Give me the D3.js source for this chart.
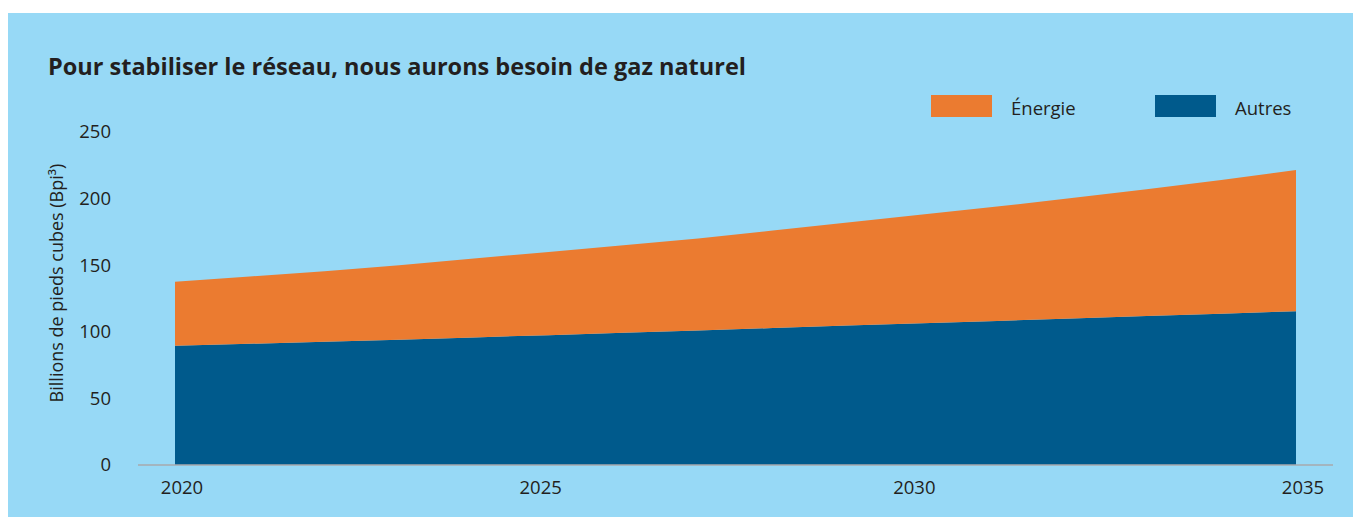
<!DOCTYPE html>
<html>
<head>
<meta charset="utf-8">
<script src="https://cdn.jsdelivr.net/npm/d3@7"></script>
<style>
  html, body { margin: 0; padding: 0; background: #fff; }
  svg { display: block; font-family: "Open Sans", "Noto Sans", sans-serif; }
</style>
</head>
<body>
<script>
var W = 1353, H = 517;

// data (Bpi³)
var years   = [2020, 2021, 2022, 2023, 2024, 2025, 2026, 2027, 2028, 2029, 2030, 2031, 2032, 2033, 2034, 2035];
var autres  = [89.5, 91, 92.5, 94, 95.8, 97.5, 99.2, 101, 102.8, 104.7, 106.5, 108.2, 110, 111.8, 113.6, 115.5];
var energie = [48, 50.5, 53, 56, 59.2, 62.5, 65.8, 69, 73.2, 77.3, 81.5, 85.8, 90.5, 95.2, 100.4, 106];
var seriesNames = ["Autres", "Énergie"];
var seriesColors = ["#005a8c", "#eb7b30"];
var yTicks = [0, 50, 100, 150, 200, 250];
var xTicks = [2020, 2025, 2030, 2035];

var title = "Pour stabiliser le réseau, nous aurons besoin de gaz naturel";
var yTitle = "Billions de pieds cubes (Bpi³)";

var rows = years.map(function(y, i) {
    return { year: y, "Autres": autres[i], "Énergie": energie[i] };
});

var svg = d3.select("body").append("svg")
    .attr("width", W)
    .attr("height", H);

// panel background
svg.append("rect")
    .attr("x", 8).attr("y", 13)
    .attr("width", W - 8).attr("height", H - 13)
    .attr("fill", "#97d9f6");

var x = d3.scaleLinear().domain([2020, 2035]).range([175, 1296]);
var y = d3.scaleLinear().domain([0, 250]).range([465, 132]);

var stack = d3.stack().keys(seriesNames);
var layers = stack(rows);

var area = d3.area()
    .x(function(d) { return x(d.data.year); })
    .y0(function(d) { return y(d[0]); })
    .y1(function(d) { return y(d[1]); });

svg.selectAll(".layer")
    .data(layers).enter()
    .append("path")
    .attr("class", "layer")
    .attr("fill", function(d, i) { return seriesColors[i]; })
    .attr("d", area);

// baseline
svg.append("line")
    .attr("x1", 138).attr("x2", 1333)
    .attr("y1", y(0)).attr("y2", y(0))
    .attr("stroke", "#a7a9ac")
    .attr("stroke-width", 1.5);

// y tick labels
svg.selectAll(".ytick")
    .data(yTicks).enter()
    .append("text")
    .attr("class", "ytick")
    .attr("x", 111)
    .attr("y", function(d) { return y(d); })
    .attr("dy", "0.35em")
    .attr("text-anchor", "end")
    .attr("font-size", 18.5)
    .attr("fill", "#231f20")
    .text(function(d) { return d; });

// x tick labels (end labels sit a little outward in the original)
svg.selectAll(".xtick")
    .data(xTicks).enter()
    .append("text")
    .attr("class", "xtick")
    .attr("x", function(d, i) {
        if (i == 0) return x(d) + 7;
        if (i == xTicks.length - 1) return x(d) + 7;
        return x(d) - 8;
    })
    .attr("y", 494)
    .attr("text-anchor", "middle")
    .attr("font-size", 18.5)
    .attr("fill", "#231f20")
    .text(function(d) { return d; });

// y title
svg.append("text")
    .attr("transform", "translate(63," + 283 + ") rotate(-90)")
    .attr("text-anchor", "middle")
    .attr("font-size", 18)
    .attr("fill", "#231f20")
    .text(yTitle);

// title
svg.append("text")
    .attr("x", 48).attr("y", 75)
    .attr("font-size", 23.5)
    .attr("font-weight", "bold")
    .attr("fill", "#231f20")
    .text(title);

// legend
var legendItems = [
    { name: "Énergie", color: seriesColors[1], x: 931 },
    { name: "Autres", color: seriesColors[0], x: 1155 }
];
var lg = svg.selectAll(".legend")
    .data(legendItems).enter()
    .append("g")
    .attr("class", "legend")
    .attr("transform", function(d) { return "translate(" + d.x + ",95)"; });
lg.append("rect")
    .attr("width", 61).attr("height", 22)
    .attr("fill", function(d) { return d.color; });
lg.append("text")
    .attr("x", 80).attr("y", 20)
    .attr("font-size", 18.5)
    .attr("fill", "#231f20")
    .text(function(d) { return d.name; });
</script>
</body>
</html>
